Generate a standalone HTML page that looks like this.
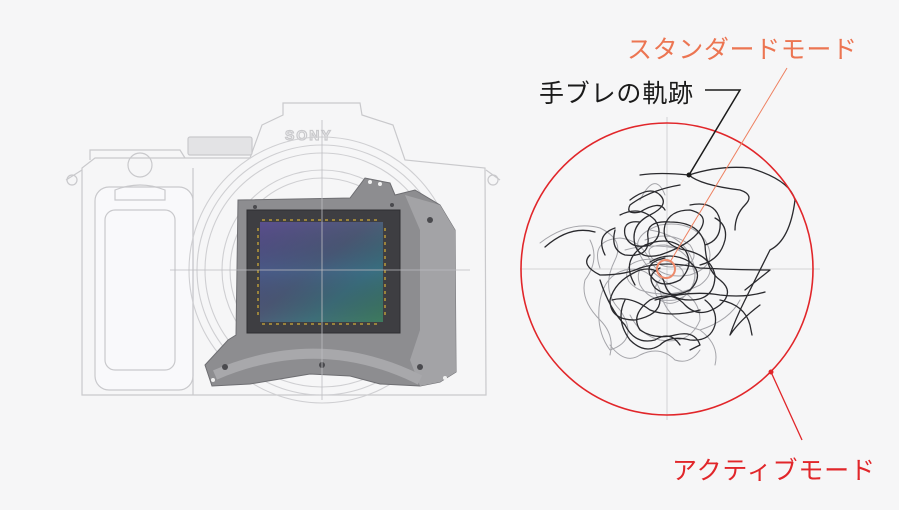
<!DOCTYPE html>
<html><head><meta charset="utf-8"><style>
html,body{margin:0;padding:0;background:#f6f6f7;}
svg{display:block}
text{font-family:"Liberation Sans","Noto Sans CJK JP",sans-serif;}
</style></head><body>
<svg width="899" height="510" viewBox="0 0 899 510" xmlns="http://www.w3.org/2000/svg">
<defs>
<linearGradient id="chip" x1="0" y1="0" x2="1" y2="1">
<stop offset="0" stop-color="#5a4f8e"/><stop offset="0.45" stop-color="#4f5a78"/><stop offset="0.7" stop-color="#3f6f7a"/><stop offset="1" stop-color="#3e7a5e"/>
</linearGradient>
<linearGradient id="chip2" x1="0" y1="0" x2="0" y2="1">
<stop offset="0" stop-color="#000" stop-opacity="0"/><stop offset="0.5" stop-color="#2a6a9a" stop-opacity="0.25"/><stop offset="1" stop-color="#000" stop-opacity="0"/>
</linearGradient>
</defs>
<rect width="899" height="510" fill="#f6f6f7"/>
<g fill="none" stroke="#c9c9cc" stroke-width="1.2">
<path d="M283 103 L360 103 L362 115 L393 125 L405 160 L485 168 L486 395 L82 395 L82 168 L95 158 L250 158 L262 125 L283 115 Z"/>
<rect x="188" y="137" width="64" height="18" rx="2" fill="#e3e3e5"/>
<path d="M90 160 L90 150 L180 150 L185 158"/>
<circle cx="72" cy="180" r="5"/><circle cx="493" cy="180" r="5"/>
<path d="M66 180 L82 170 M500 180 L486 170"/>
<rect x="95" y="187" width="98" height="203" rx="14" fill="#f9f9fb"/>
<rect x="105" y="210" width="70" height="160" rx="10"/>
<path d="M115 190 Q140 180 165 190 L165 200 L115 200 Z"/>
<circle cx="140" cy="165" r="12"/>
<path d="M193 168 L193 395"/>
<text x="285" y="140" font-size="14" fill="none" stroke="#c9c9cc" font-weight="bold" letter-spacing="2">SONY</text>
</g>
<g fill="none" stroke="#cfcfd2" stroke-width="1.1">
<circle cx="322" cy="270" r="133"/>
<circle cx="322" cy="270" r="125"/>
<circle cx="322" cy="270" r="117"/>
<circle cx="322" cy="270" r="100"/>
<circle cx="322" cy="270" r="92"/>
</g>
<path d="M238 200 L350 198 L365 178 L390 183 L395 195 L415 190 L440 205 L455 230 L456 372 L440 382 L420 386 L380 384 L350 376 L310 374 L250 384 L212 386 L205 365 L228 340 L236 335 Z" fill="#8d8d90" stroke="#6e6e72" stroke-width="1"/>
<path d="M405 195 L440 205 L455 230 L456 372 L440 382 L420 386 L410 360 L420 330 L420 230 Z" fill="#a3a3a6"/>
<path d="M215 375 Q320 330 420 380" fill="none" stroke="#a8a8ab" stroke-width="10"/>
<g fill="#4a4a4e">
<circle cx="225" cy="367" r="3"/><circle cx="322" cy="365" r="3"/><circle cx="420" cy="367" r="3"/><circle cx="430" cy="220" r="3"/><circle cx="255" cy="207" r="2"/><circle cx="392" cy="205" r="2"/>
</g>
<g fill="#f0f0f0"><circle cx="370" cy="182" r="2"/><circle cx="380" cy="184" r="2"/><circle cx="213" cy="380" r="2"/><circle cx="445" cy="378" r="2"/></g>
<rect x="247" y="210" width="153" height="123" fill="#3e3e42" stroke="#2e2e32"/>
<rect x="260" y="222" width="123" height="100" fill="url(#chip)"/>
<rect x="260" y="222" width="123" height="100" fill="url(#chip2)"/>
<g stroke="#b89a3a" stroke-width="1.5" stroke-dasharray="3 4">
<line x1="262" y1="220" x2="381" y2="220"/><line x1="262" y1="324" x2="381" y2="324"/>
<line x1="385" y1="228" x2="385" y2="318"/><line x1="258" y1="228" x2="258" y2="318"/>
</g>
<g stroke="#bdbdc0" stroke-width="0.8">
<line x1="170" y1="270" x2="470" y2="270"/><line x1="322" y1="120" x2="322" y2="400"/>
</g>
<g stroke="#c8c8cb" stroke-width="0.8">
<line x1="667" y1="117" x2="667" y2="420"/><line x1="520" y1="269" x2="820" y2="269"/>
</g>
<g fill="none" stroke-linecap="round" stroke-linejoin="round">
<g stroke="#a5a5aa" stroke-width="1">
<path d="M540 243 Q570 220 600 228 Q625 240 615 260 Q600 290 620 310 Q640 340 610 350 Q595 330 600 300 Q605 275 625 270 Q650 265 660 290 Q665 320 700 330 Q730 320 740 300"/>
<path d="M600 268 Q590 240 620 238 Q640 240 650 260 Q660 280 690 275 Q720 265 705 240 Q690 220 660 225 Q630 235 640 255 Q650 275 680 290 Q700 300 700 320 Q690 345 660 340 Q640 335 630 315"/>
<path d="M625 250 Q660 240 700 255 Q720 270 700 285 Q670 300 640 290 Q620 280 630 265 Q645 255 670 262 Q690 270 680 280"/>
<path d="M590 240 Q600 260 585 280 Q580 300 600 320 Q615 335 610 355 M650 230 Q680 235 690 255 Q700 275 690 290 Q675 310 660 300 Q650 290 660 280"/>
<path d="M640 200 Q655 170 665 195 M610 345 Q625 365 640 355 Q660 345 675 360 Q690 365 700 350 M700 330 Q720 345 715 365"/>
<path d="M645 240 Q670 230 690 245 Q700 260 685 265 Q660 272 650 255 Q645 245 665 245 Q690 250 695 275 Q695 295 675 300 Q650 303 640 285 Q633 265 655 262"/>
</g>
<g stroke="#2a2a2e" stroke-width="1.3">
<path d="M640 175 Q660 172 689 175 Q720 165 750 168 Q790 180 795 200 Q790 240 770 250 Q760 270 745 300 Q735 320 730 335 Q740 320 760 305"/>
<path d="M689 175 Q700 185 740 190 Q755 195 745 205 Q735 215 735 230 M680 185 Q650 190 630 205 Q625 215 640 212 Q660 200 665 210"/>
<path d="M630 200 Q650 185 660 195 Q670 205 650 215 Q630 225 635 245 Q640 260 660 255 Q690 245 700 230 Q710 215 690 210 Q670 210 665 225 Q660 245 685 250 Q710 255 715 275 Q715 300 690 300 Q670 300 665 285 Q660 265 640 270 Q615 280 610 300 Q610 320 635 320 Q660 315 660 300"/>
<path d="M545 247 Q570 225 595 232 M590 255 Q580 265 600 275 Q625 275 640 268 Q665 260 700 268 Q740 270 770 270 L745 290"/>
<path d="M615 230 Q610 250 625 255 Q650 258 648 238 Q645 220 670 222 Q700 222 705 245 Q706 270 720 280 Q735 292 720 305 Q700 320 685 305 Q672 290 650 300 Q630 315 640 330 Q655 340 675 335 Q695 330 700 345 L690 350"/>
<path d="M600 280 Q610 310 625 325 Q635 345 655 340 Q670 330 680 345 M720 300 Q745 305 750 325 L752 335"/>
<path d="M635 285 Q620 260 645 245 Q670 235 685 250 Q695 265 680 280 Q660 290 650 275 Q645 262 665 258"/>
<path d="M655 300 Q690 290 720 295 Q745 298 765 292 M612 300 Q630 295 650 310 Q670 318 700 310"/>
<path d="M620 215 Q640 205 655 220 Q665 235 650 245 Q630 250 625 235 Q622 220 640 222 M690 205 Q715 200 720 220 Q722 240 705 245"/>
<path d="M605 255 Q595 235 615 228 M625 300 Q615 320 630 340 Q645 355 660 345 Q670 335 690 340 Q710 342 715 325 Q718 310 705 300"/>
<path d="M650 262 Q670 250 690 262 Q705 275 690 290 Q670 300 655 288 Q645 275 660 268 M700 265 Q720 260 725 240 Q728 225 715 218"/>
</g>
</g>
<circle cx="667" cy="269" r="146" fill="none" stroke="#e1262a" stroke-width="1.6"/>
<circle cx="666" cy="269" r="9" fill="none" stroke="#ee8a6a" stroke-width="2"/>
<line x1="787" y1="68" x2="670" y2="262" stroke="#ee8060" stroke-width="1"/>
<polyline points="705,90 740,90 689,175" fill="none" stroke="#1a1a1a" stroke-width="1.5"/>
<circle cx="689" cy="175" r="2.5" fill="#1a1a1a"/>
<circle cx="771" cy="372" r="2.5" fill="#e1262a"/>
<line x1="771" y1="372" x2="802" y2="440" stroke="#e1262a" stroke-width="1.3"/>
<text x="627" y="58" font-size="25" fill="#ec7552" textLength="230" lengthAdjust="spacing">スタンダードモード</text>
<text x="539" y="102" font-size="25" fill="#1a1a1a" textLength="154" lengthAdjust="spacing">手ブレの軌跡</text>
<text x="672" y="479" font-size="25" fill="#e1262a" textLength="203" lengthAdjust="spacing">アクティブモード</text>
</svg>
</body></html>
